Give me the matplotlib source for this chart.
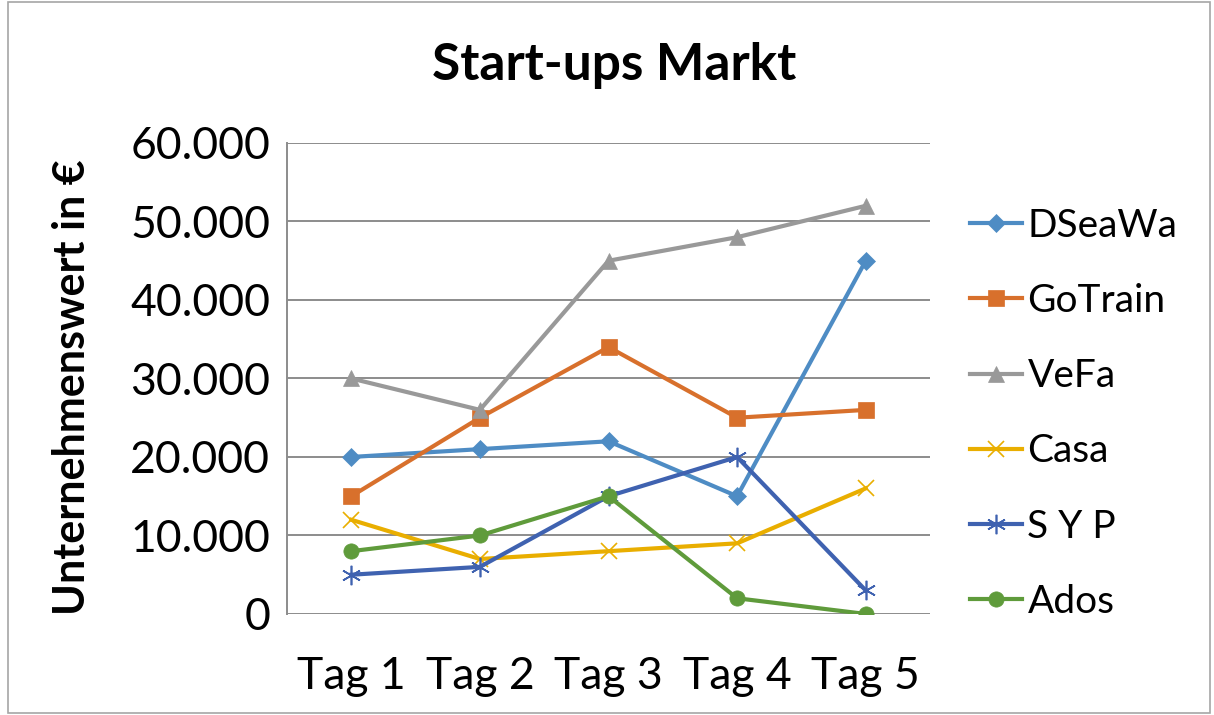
import matplotlib.pyplot as plt
from matplotlib.patches import Rectangle
from matplotlib.ticker import FuncFormatter

plt.rcParams['font.family'] = ['Lato', 'DejaVu Sans']

tage = ['Tag 1', 'Tag 2', 'Tag 3', 'Tag 4', 'Tag 5']

dseawa = [20000, 21000, 22000, 15000, 45000]
gotrain = [15000, 25000, 34000, 25000, 26000]
vefa = [30000, 26000, 45000, 48000, 52000]
casa = [12000, 7000, 8000, 9000, 16000]
syp = [5000, 6000, 15000, 20000, 3000]
ados = [8000, 10000, 15000, 2000, 0]

namen = ['DSeaWa', 'GoTrain', 'VeFa', 'Casa', 'S Y P', 'Ados']
werte = [dseawa, gotrain, vefa, casa, syp, ados]
farben = ['#4e8cc4', '#d8702c', '#999999', '#e9ae00', '#3f62b0', '#5f9b3b']
marker = ['D', 's', '^', 'x', (6, 2, 0), 'o']
msize = [9, 12, 12, 12, 14, 11]

fig = plt.figure(figsize=(12.14, 7.15), dpi=100)
ax = fig.add_axes([0.2364, 0.1413, 0.5297, 0.6587])

x = range(len(tage))
for name, w, f, m, s in zip(namen, werte, farben, marker, msize):
    ax.plot(x, w, color=f, lw=3, marker=m, markersize=s,
            markeredgewidth=1.2 if m in ('x', (6, 2, 0)) else 0.5,
            markeredgecolor=f, label=name)

ax.set_xlim(-0.5, 4.5)
ax.set_ylim(0, 60000)
ax.set_yticks(range(0, 60001, 10000))
ax.yaxis.set_major_formatter(FuncFormatter(lambda v, p: f'{int(v):,}'.replace(',', '.')))
ax.set_xticks(list(x))
ax.set_xticklabels(tage)
ax.tick_params(axis='both', length=0, labelsize=32, colors='black')
ax.tick_params(axis='x', pad=30)
ax.tick_params(axis='y', pad=12)

ax.grid(axis='y', color='#8c8c8c', lw=1.4)
ax.set_axisbelow(True)
for s in ['top', 'right', 'bottom']:
    ax.spines[s].set_visible(False)
ax.spines['left'].set_color('#8c8c8c')
ax.spines['left'].set_linewidth(1.4)

ax.set_ylabel('Unternehmenswert in €', fontsize=31, fontweight='bold', va='center')
ax.yaxis.set_label_coords(-0.334, 0.482)
fig.text(0.506, 0.909, 'Start-ups Markt', fontsize=37, fontweight='bold',
         ha='center', va='center')

leg = ax.legend(loc='center left', bbox_to_anchor=(1.062, 0.425), frameon=False,
                fontsize=28, handlelength=1.33, handletextpad=0.15,
                labelspacing=1.01, borderpad=0, borderaxespad=0)

fig.patches.append(Rectangle((0.007, 0.003), 0.99, 0.994, transform=fig.transFigure,
                             fill=False, edgecolor='#a6a6a6', lw=1.2))

fig.savefig('out.png', dpi=100)
